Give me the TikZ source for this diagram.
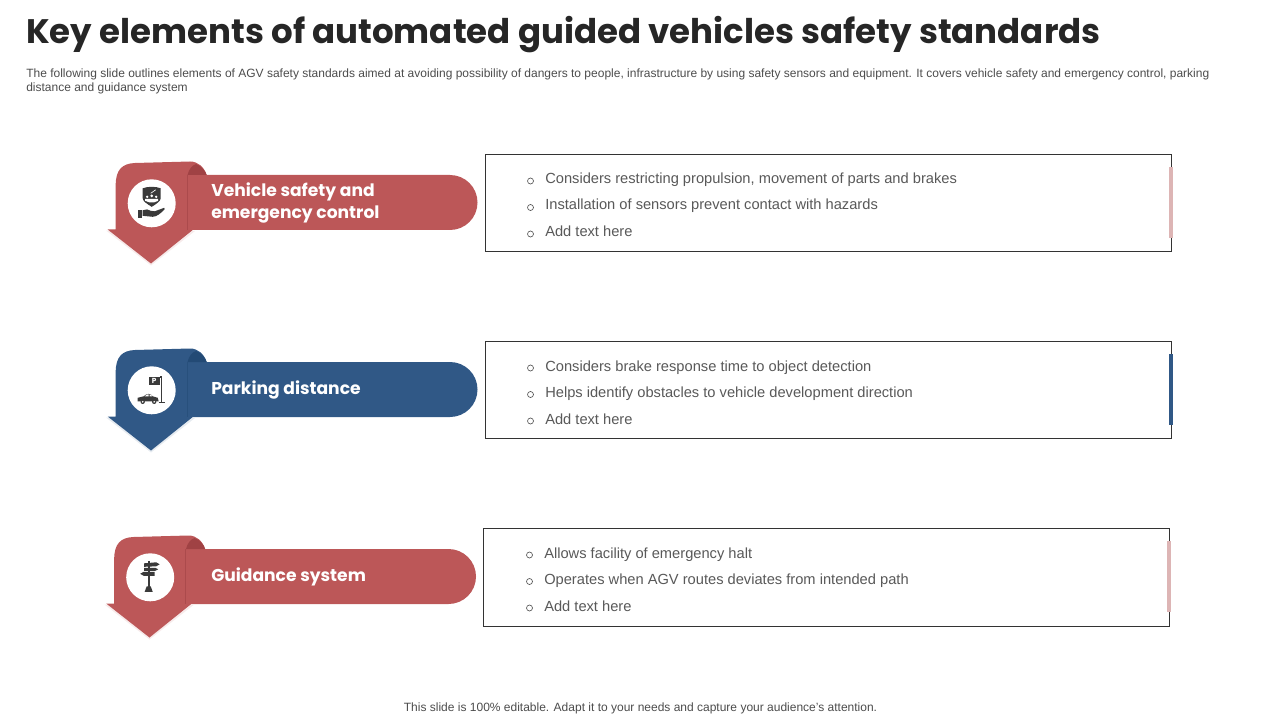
\documentclass[tikz,border=0pt]{standalone}
\usepackage{fontspec}
\setmainfont{Liberation Sans}
\newfontfamily\headfont{Poppins}
\usepackage{tikz}
\definecolor{redbar}{HTML}{BC5758}
\definecolor{redfold}{HTML}{A04244}
\definecolor{redstrip}{HTML}{DDB5B5}
\definecolor{bluebar}{HTML}{305886}
\definecolor{bluefold}{HTML}{234A75}
\definecolor{icondark}{HTML}{3A3A3A}
\definecolor{bodygray}{HTML}{595959}
\tikzset{
	titletxt/.style={anchor=base west, inner sep=0, font=\headfont\bfseries\fontsize{25.5}{30}\selectfont, text=black!85},
	desctxt/.style={anchor=base west, inner sep=0, font=\fontsize{9}{12}\selectfont, text=black!70},
	bandtxt/.style={anchor=west, inner sep=0, align=left, font=\headfont\bfseries\fontsize{12.85}{16.5}\selectfont, text=white},
	itemtxt/.style={anchor=base west, inner sep=0, font=\fontsize{11}{13}\selectfont, text=bodygray},
	bullet/.style={circle, draw=bodygray, line width=0.5pt, inner sep=0, minimum size=4.5pt},
	textbox/.style={draw=black!80, line width=0.7pt, fill=white},
}
\begin{document}
\begin{tikzpicture}[x=0.75pt, y=-0.75pt]
	\useasboundingbox (0,0) rectangle (1280,720);

	%Kopfzeile
	\node[titletxt] (title) at (26,44) {Key elements of automated guided vehicles safety standards};
	\node[desctxt] (desc1) at (26,77.5) {The following slide outlines elements of AGV safety standards aimed at avoiding possibility of dangers to people, infrastructure by using safety sensors and equipment. It covers vehicle safety and emergency control, parking};
	\node[desctxt] (desc2) at (26,91.5) {distance and guidance system};

	%Pfeile mit Band
	\foreach \rowx/\rowy/\barcol/\foldcol in {0/0/redbar/redfold, 0/187/bluebar/bluefold, -1.5/374/redbar/redfold}{
		\begin{scope}[shift={(\rowx,\rowy)}]
			\fill[\barcol!12] (106,230.5) -- (151,265.5) -- (195,231) -- cycle; %Schatten
			\fill[\barcol] (187,175) -- (450,175) arc (-90:90:27.5) -- (187,230) -- cycle; %Band
			\fill[\barcol] (107.7,229.5) -- (115.7,229.5) -- (115.7,185) .. controls (115.7,170) and (122,163.5) .. (135,163) -- (190,161.5) .. controls (198,161.5) and (204,167) .. (206.7,175) -- (187,175) -- (187,230) -- (192.7,230) -- (151,263.5) -- cycle;
			\fill[\foldcol] (187.5,175) .. controls (189,169) and (192,165.5) .. (196,164) .. controls (201,166) and (205,170) .. (206.7,175) -- cycle;
			\draw[\foldcol!60!\barcol, line width=0.4pt] (187,175) -- (187,230);
			\fill[white] (151.7,203.3) circle (24);
		\end{scope}
	}

	%Symbol Fahrzeugsicherheit
	\begin{scope}[shift={(151.7,203.3)}]
		\fill[icondark] (-9,-15) .. controls (-4,-17) and (4,-17) .. (9,-15) -- (9,-5) .. controls (9,-2) and (4,1) .. (0,3.5) .. controls (-4,1) and (-9,-2) .. (-9,-5) -- cycle;
		\fill[white] (-4.5,-6.5) circle (1.3) (0,-7.5) circle (1.5) (4.5,-6.5) circle (1.3);
		\fill[white] (-6.5,-2.5) -- (-6.5,-4.5) -- (6.5,-4.5) -- (6.5,-2.5) -- (2.5,-1) -- (-2.5,-1) -- cycle;
		\draw[white, line width=0.5pt] (-1,-10) -- (4,-13.5);
		\fill[icondark] (-14,6.5) rectangle (-10,15);
		\fill[icondark] (-9,7) .. controls (-6,5.5) and (-3,6) .. (-1,7.5) -- (3,8) -- (12.5,4.5) -- (13,6) .. controls (9,10) and (5,13.5) .. (1,13.5) -- (-9,12.5) -- cycle;
	\end{scope}

	%Symbol Parken
	\begin{scope}[shift={(151.7,390.3)}]
		\fill[icondark] (-2.7,-13.3) rectangle (8.3,-5);
		\node[inner sep=0, text=white, font=\headfont\bfseries\fontsize{5.5}{6}\selectfont] (psign) at (2.5,-9) {P};
		\draw[icondark, line width=0.8pt] (10,-14) -- (10,12) (7,12.3) -- (13,12.3) (8.3,-13.3) -- (10,-13.3);
		\fill[icondark] (-14,11) -- (-14,7.5) -- (-8,6) .. controls (-5,2.8) and (-1,2.8) .. (1,6) -- (6,7.5) -- (7,11) -- cycle;
		\fill[white] (-7,6) .. controls (-5,4) and (-4,4) .. (-3,4) -- (-3,6) -- cycle (-2,6) -- (-2,4) .. controls (-1,4) and (0,5) .. (0.5,6) -- cycle;
		\fill[icondark] (-9,11.5) circle (2.2) (2.5,11.5) circle (2.2);
		\fill[white] (-9,11.5) circle (0.9) (2.5,11.5) circle (0.9);
	\end{scope}

	%Symbol Wegweiser
	\begin{scope}[shift={(150.2,577.3)}]
		\draw[icondark, line width=1.3pt] (-1.5,-16.5) -- (-1.5,12);
		\fill[icondark] (-3.5,9) -- (0.5,9) -- (2.5,14.5) -- (-5.5,14.5) -- cycle;
		\fill[icondark] (-6,-14) -- (6,-15) -- (9.5,-13) -- (6,-11) -- (-6,-10.5) -- cycle;
		\fill[icondark] (-6,-9.5) -- (5,-9.5) -- (8,-8) -- (5,-6.5) -- (-6,-6.5) -- cycle;
		\fill[icondark] (-10,-3.5) -- (-6.5,-5.5) -- (4.5,-5.5) -- (4.5,-1.5) -- (-6.5,-1.5) -- cycle;
	\end{scope}

	%Band Beschriftung
	\node[bandtxt] (veh) at (211,203) {Vehicle safety and\\emergency control};
	\node[bandtxt] (park) at (211,389.5) {Parking distance};
	\node[bandtxt] (guide) at (211,576.5) {Guidance system};

	%Textfelder
	\draw[textbox] (485.5,154.5) rectangle (1171.5,251);
	\draw[textbox] (485.5,341.5) rectangle (1171.5,438.5);
	\draw[textbox] (483.5,528.5) rectangle (1169.5,626);
	\fill[redstrip] (1169,167) rectangle (1173,238);
	\fill[bluebar] (1169,354) rectangle (1173,425);
	\fill[redstrip] (1167,541) rectangle (1171,612);

	\node[bullet] (b11) at (530.5,181) {};
	\node[bullet] (b12) at (530.5,207.5) {};
	\node[bullet] (b13) at (530.5,234) {};
	\node[itemtxt] (i11) at (545,184) {Considers restricting propulsion, movement of parts and brakes};
	\node[itemtxt] (i12) at (545,210) {Installation of sensors prevent contact with hazards};
	\node[itemtxt] (i13) at (545,237) {Add text here};

	\node[bullet] (b21) at (530.5,368) {};
	\node[bullet] (b22) at (530.5,394.5) {};
	\node[bullet] (b23) at (530.5,421) {};
	\node[itemtxt] (i21) at (545,371) {Considers brake response time to object detection};
	\node[itemtxt] (i22) at (545,397) {Helps identify obstacles to vehicle development direction};
	\node[itemtxt] (i23) at (545,424) {Add text here};

	\node[bullet] (b31) at (529.5,555) {};
	\node[bullet] (b32) at (529.5,581.5) {};
	\node[bullet] (b33) at (529.5,608) {};
	\node[itemtxt] (i31) at (544,558) {Allows facility of emergency halt};
	\node[itemtxt] (i32) at (544,584) {Operates when AGV routes deviates from intended path};
	\node[itemtxt] (i33) at (544,611) {Add text here};

	\node[desctxt, anchor=base] (foot) at (640.5,711.5) {This slide is 100\% editable. Adapt it to your needs and capture your audience's attention.};
\end{tikzpicture}
\end{document}
